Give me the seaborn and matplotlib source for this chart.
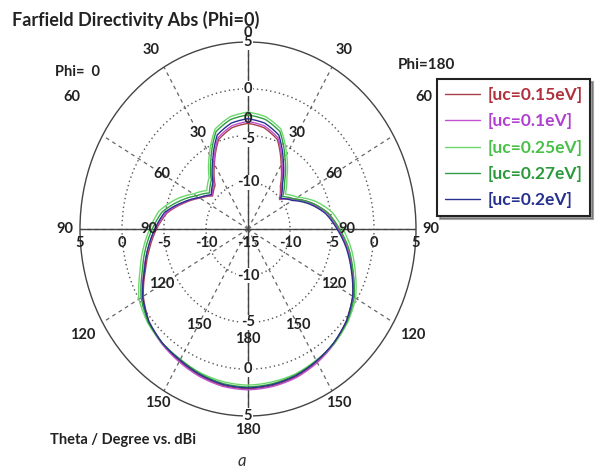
import numpy as np
import pandas as pd
import matplotlib
matplotlib.use("Agg")
import matplotlib.pyplot as plt
import matplotlib.transforms as mtrans
import seaborn as sns

# ---------------- data ----------------
angles_deg = list(range(0, 360, 10))  # clockwise from top; 0..180 = Phi=180 side, 190..350 = Phi=0 side

series_labels = ["[uc=0.15eV]", "[uc=0.1eV]", "[uc=0.25eV]", "[uc=0.27eV]", "[uc=0.2eV]"]

uc_015 = [-3.7, -4.0, -4.8, -7.1, -9.0, -10.1, -8.6, -6.9, -5.3, -4.2, -3.0, -1.8, -0.6, 0.3, 0.9, 1.4, 1.8, 2.0,
          2.1, 2.0, 1.7, 1.3, 0.9, 0.4, -0.6, -2.0, -3.1, -4.1, -5.2, -6.9, -8.4, -9.5, -8.9, -7.0, -4.8, -4.0]
uc_010 = [-3.5, -3.8, -4.6, -6.9, -8.8, -10.0, -8.7, -7.0, -5.4, -4.3, -3.0, -1.7, -0.5, 0.4, 1.0, 1.5, 1.9, 2.1,
          2.2, 2.1, 1.8, 1.4, 1.0, 0.5, -0.5, -1.8, -2.9, -4.0, -5.1, -6.8, -8.3, -9.4, -8.7, -6.9, -4.6, -3.8]
uc_025 = [-2.5, -2.8, -3.6, -5.8, -7.8, -9.2, -8.2, -6.4, -4.8, -3.7, -2.5, -1.4, -0.2, 0.5, 1.0, 1.2, 1.5, 1.6,
          1.7, 1.6, 1.4, 1.1, 0.9, 0.6, 0.0, -1.3, -2.3, -3.3, -4.2, -5.8, -7.5, -8.6, -7.8, -5.8, -3.6, -2.8]
uc_027 = [-2.8, -3.1, -3.9, -6.2, -8.2, -9.6, -8.6, -6.9, -5.3, -4.1, -2.8, -1.7, -0.4, 0.4, 0.9, 1.3, 1.6, 1.8,
          1.9, 1.8, 1.5, 1.1, 0.9, 0.5, -0.3, -1.6, -2.6, -3.6, -4.6, -6.3, -7.9, -9.0, -8.2, -6.2, -3.9, -3.1]
uc_020 = [-3.2, -3.5, -4.3, -6.6, -8.6, -9.9, -8.9, -7.2, -5.6, -4.4, -3.1, -1.9, -0.6, 0.3, 0.9, 1.3, 1.7, 1.9,
          2.0, 1.9, 1.6, 1.2, 0.9, 0.4, -0.5, -1.9, -2.9, -3.9, -4.9, -6.7, -8.3, -9.3, -8.5, -6.6, -4.3, -3.5]

series_values = [uc_015, uc_010, uc_025, uc_027, uc_020]
colors = ["#A8404A", "#C050D0", "#6CD86C", "#2E9E40", "#2A3090"]
text_colors = ["#B0303C", "#B040D0", "#48C048", "#2A9A3A", "#26308E"]

r_rings = [-10, -5, 0]
r_tick_labels = ["5", "0", "-5", "-10"]
r_tick_values = [5, 0, -5, -10]
theta_tick_labels = ["0", "30", "60", "90", "120", "150", "180"]

# build long table (closed curves)
rows = []
for lab, vals in zip(series_labels, series_values):
    th = angles_deg + [360]
    vv = list(vals) + [vals[0]]
    for a, v in zip(th, vv):
        rows.append({"series": lab, "theta": np.deg2rad(a), "dB": v})
df = pd.DataFrame(rows)

# ---------------- style ----------------
sns.set_style("white")
plt.rcParams["font.family"] = ["Lato", "DejaVu Sans"]
plt.rcParams["font.weight"] = "bold"
TXT = "#222222"

fig = plt.figure(figsize=(5.97, 4.68), dpi=100)
ax = fig.add_axes([80 / 597, 1 - 416 / 468, 336 / 597, 374 / 468], projection="polar")
ax.set_theta_zero_location("N")
ax.set_theta_direction(-1)

sns.lineplot(data=df, x="theta", y="dB", hue="series", hue_order=series_labels,
             palette=colors, sort=False, estimator=None, lw=1.0, ax=ax, legend=False, zorder=3)
for ln in ax.get_lines():
    ln._path._interpolation_steps = 12

ax.set_ylim(-15, 5)
ax.set_aspect("auto")
ax.set_xlabel("")
ax.set_ylabel("")

# grid
ax.set_rgrids(r_rings, labels=[""] * len(r_rings))
ax.set_thetagrids(range(0, 360, 30), labels=[""] * 12)
ax.yaxis.grid(True, linestyle=(0, (1, 2.2)), color="#555555", lw=1.0)
ax.xaxis.grid(True, linestyle=(0, (3, 3)), color="#666666", lw=0.9)
ax.spines["polar"].set_color("#444444")
ax.spines["polar"].set_linewidth(1.0)
for a in [0, 90, 180, 270]:
    ax.axvline(np.deg2rad(a), color="#444444", lw=1.0, zorder=2)

fs = 10.5
# radial labels on vertical axis (centered on the line)
for v, s in zip(r_tick_values, r_tick_labels):
    for a in (0, 180):
        rr = v - 0.4 if (a == 0 and v == -5) else v
        ax.text(np.deg2rad(a), rr, s, ha="center", va="center", fontsize=fs, color=TXT,
                fontweight="bold", zorder=4,
                bbox=dict(boxstyle="square,pad=0.05", fc="white", ec="none"))
# radial labels below horizontal axis
below = mtrans.offset_copy(ax.transData, fig=fig, y=-14, units="dots")
for v, s in zip(r_tick_values, r_tick_labels):
    for a in (90, 270):
        ax.text(np.deg2rad(a), v, s, ha="center", va="center", fontsize=fs, color=TXT,
                fontweight="bold", transform=below, zorder=4)
ax.text(0, -15, "-15", ha="center", va="center", fontsize=fs, color=TXT, fontweight="bold",
        transform=below, zorder=4)

# inner theta labels
inner_r = -3.2
for i, s in enumerate(theta_tick_labels):
    a = 30 * i
    for aa in {a, (360 - a) % 360}:
        ax.text(np.deg2rad(aa), inner_r, s, ha="center", va="center", fontsize=fs, color=TXT,
                fontweight="bold", zorder=5)

# outer theta labels (angle/radius of each label)
outer_pos = [(0, 6.0), (31, 7.3), (56, 10.3), (90, 6.8), (120, 7.7), (150, 6.5), (180, 6.5)]
for s, (a, rr) in zip(theta_tick_labels, outer_pos):
    for aa in {a, (360 - a) % 360}:
        ax.text(np.deg2rad(aa), rr, s, ha="center", va="center", fontsize=fs, color=TXT,
                fontweight="bold", clip_on=False, zorder=5)

# texts
fig.text(12 / 597, 1 - 20 / 468, "Farfield Directivity Abs (Phi=0)", ha="left", va="center",
         fontsize=13, fontweight="bold", color=TXT)
fig.text(55 / 597, 1 - 72 / 468, "Phi=  0", ha="left", va="center", fontsize=fs, fontweight="bold", color=TXT)
fig.text(398 / 597, 1 - 65 / 468, "Phi=180", ha="left", va="center", fontsize=11, fontweight="bold", color=TXT)
fig.text(50 / 597, 1 - 440 / 468, "Theta / Degree vs. dBi", ha="left", va="center", fontsize=fs,
         fontweight="bold", color=TXT)
fig.text(242 / 597, 1 - 461 / 468, "a", ha="center", va="center", fontsize=12, fontstyle="italic",
         fontweight="normal", color="#333333")

# legend
handles = ax.get_lines()[:5]
leg = fig.legend(handles, series_labels, loc="upper left", bbox_to_anchor=(437 / 597, 1 - 79 / 468),
                 frameon=True, fancybox=False, shadow=True, edgecolor="#222222",
                 prop={"size": 12.5, "weight": "bold"}, handlelength=2.0, handletextpad=0.45,
                 labelspacing=0.6, borderpad=0.45, borderaxespad=0.0)
leg.get_frame().set_linewidth(1.5)
for t, c in zip(leg.get_texts(), text_colors):
    t.set_color(c)

fig.savefig("out.png", dpi=100)
